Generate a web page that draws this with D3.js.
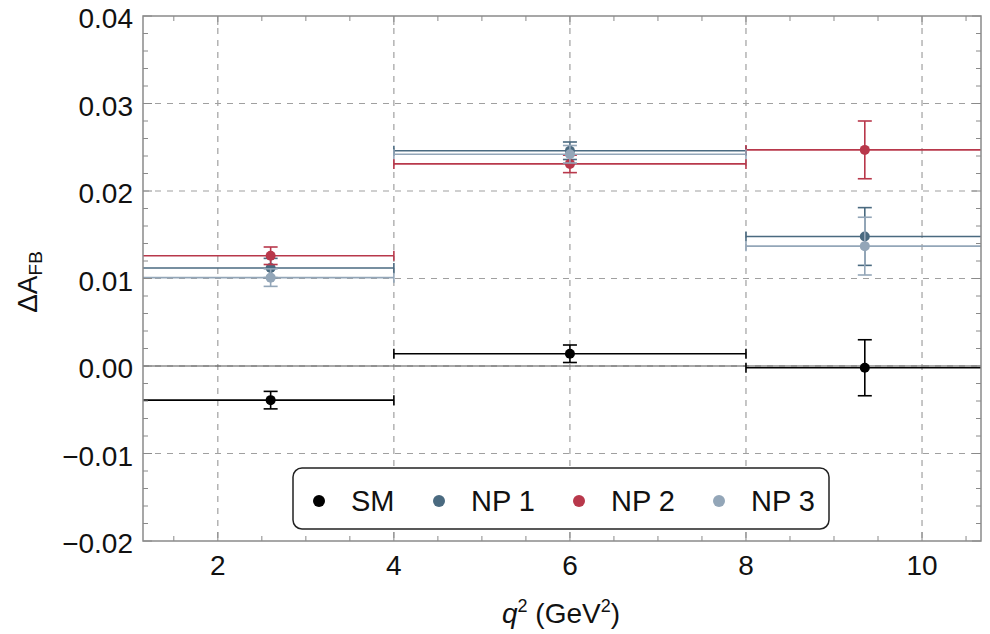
<!DOCTYPE html>
<html><head><meta charset="utf-8">
<script src="https://cdn.jsdelivr.net/npm/d3@7"></script>
<style>body{margin:0;background:#fff}svg{display:block}text{font-family:"Liberation Sans",Arial,sans-serif}</style>
</head><body><svg id="c" width="990" height="634"></svg>
<script>
const seriesNames = ["SM", "NP 1", "NP 2", "NP 3"];
const seriesColors = ["#000000", "#4a6a80", "#b8384b", "#93a6b8"];
const binLo = [1.1, 4, 8];
const binHi = [4, 8, 10.7];
const pointX = [2.6, 6, 9.35];
const smVal = [-0.0039, 0.0014, -0.0002];
const smErr = [0.001, 0.001, 0.0032];
const np1Val = [0.0112, 0.0246, 0.0148];
const np1Err = [0.0011, 0.001, 0.0033];
const np2Val = [0.0126, 0.0231, 0.0247];
const np2Err = [0.001, 0.001, 0.0033];
const np3Val = [0.0101, 0.0242, 0.0137];
const np3Err = [0.001, 0.001, 0.0033];
const xTicks = [2, 4, 6, 8, 10];
const yTicks = [-0.02, -0.01, 0, 0.01, 0.02, 0.03, 0.04];
const yTickLabels = ["\u22120.02", "\u22120.01", "0.00", "0.01", "0.02", "0.03", "0.04"];

const series = [
  {vals: smVal, errs: smErr},
  {vals: np1Val, errs: np1Err},
  {vals: np2Val, errs: np2Err},
  {vals: np3Val, errs: np3Err}
];

const L = 143, R = 981, T = 16, B = 541;
const x = d3.scaleLinear().domain([1.15, 10.67]).range([L, R]);
const y = d3.scaleLinear().domain([-0.02, 0.04]).range([B, T]);
const svg = d3.select("#c");

svg.append("defs").append("clipPath").attr("id", "clip")
  .append("rect").attr("x", L).attr("y", T).attr("width", R - L).attr("height", B - T);

// grid
const grid = svg.append("g");
xTicks.forEach(t => grid.append("line").attr("x1", x(t)).attr("x2", x(t)).attr("y1", T).attr("y2", B)
  .attr("stroke", "#a0a0a0").attr("stroke-width", 1.2).attr("stroke-dasharray", "6,6"));
yTicks.slice(1, -1).forEach(t => grid.append("line").attr("y1", y(t)).attr("y2", y(t)).attr("x1", L).attr("x2", R)
  .attr("stroke", "#a0a0a0").attr("stroke-width", 1.2).attr("stroke-dasharray", "6,6"));

// zero axis
svg.append("line").attr("x1", L).attr("x2", R).attr("y1", y(0)).attr("y2", y(0))
  .attr("stroke", "#555").attr("stroke-width", 1.2);

const plot = svg.append("g").attr("clip-path", "url(#clip)");
series.forEach((s, i) => {
  const c = seriesColors[i];
  const g = plot.append("g");
  s.vals.forEach((v, j) => {
    g.append("line").attr("x1", x(binLo[j])).attr("x2", x(binHi[j])).attr("y1", y(v)).attr("y2", y(v))
      .attr("stroke", c).attr("stroke-width", 1.6);
    [binLo[j], binHi[j]].forEach(e => g.append("line").attr("x1", x(e)).attr("x2", x(e))
      .attr("y1", y(v) - 5).attr("y2", y(v) + 5).attr("stroke", c).attr("stroke-width", 1.6));
    const e = s.errs[j], px = x(pointX[j]);
    g.append("line").attr("x1", px).attr("x2", px).attr("y1", y(v + e)).attr("y2", y(v - e))
      .attr("stroke", c).attr("stroke-width", 1.6);
    [v + e, v - e].forEach(w => g.append("line").attr("x1", px - 7).attr("x2", px + 7)
      .attr("y1", y(w)).attr("y2", y(w)).attr("stroke", c).attr("stroke-width", 1.6));
    g.append("circle").attr("cx", px).attr("cy", y(v)).attr("r", 5).attr("fill", c);
  });
});

// frame
svg.append("rect").attr("x", L).attr("y", T).attr("width", R - L).attr("height", B - T)
  .attr("fill", "none").attr("stroke", "#8a8a8a").attr("stroke-width", 1.5);

// ticks
const tk = svg.append("g").attr("stroke", "#8a8a8a").attr("stroke-width", 1);
const xMinor = d3.range(1.5, 10.7, 0.5).filter(v => v >= 1.15 && !xTicks.includes(v));
xTicks.forEach(t => { tk.append("line").attr("x1", x(t)).attr("x2", x(t)).attr("y1", B).attr("y2", B - 9);
  tk.append("line").attr("x1", x(t)).attr("x2", x(t)).attr("y1", T).attr("y2", T + 9); });
xMinor.forEach(t => { tk.append("line").attr("x1", x(t)).attr("x2", x(t)).attr("y1", B).attr("y2", B - 5);
  tk.append("line").attr("x1", x(t)).attr("x2", x(t)).attr("y1", T).attr("y2", T + 5); });
const yMinor = d3.range(-0.018, 0.04, 0.002).filter(v => Math.abs(Math.round(v * 100) - v * 100) > 1e-6);
yTicks.forEach(t => { tk.append("line").attr("y1", y(t)).attr("y2", y(t)).attr("x1", L).attr("x2", L + 9);
  tk.append("line").attr("y1", y(t)).attr("y2", y(t)).attr("x1", R).attr("x2", R - 9); });
yMinor.forEach(t => { tk.append("line").attr("y1", y(t)).attr("y2", y(t)).attr("x1", L).attr("x2", L + 5);
  tk.append("line").attr("y1", y(t)).attr("y2", y(t)).attr("x1", R).attr("x2", R - 5); });

// tick labels
xTicks.forEach(t => svg.append("text").attr("x", x(t)).attr("y", B + 34).attr("text-anchor", "middle")
  .attr("font-size", 28).attr("fill", "#111").text(t));
yTicks.forEach((t, i) => svg.append("text").attr("x", L - 10).attr("y", y(t) + 12).attr("text-anchor", "end")
  .attr("font-size", 28).attr("fill", "#111").text(yTickLabels[i]));

// axis labels
const xl = svg.append("text").attr("x", 561).attr("y", 623).attr("text-anchor", "middle")
  .attr("font-size", 28).attr("fill", "#111");
xl.append("tspan").attr("font-style", "italic").text("q");
xl.append("tspan").attr("font-size", 18).attr("dy", -11).text("2");
xl.append("tspan").attr("dy", 11).text(" (GeV");
xl.append("tspan").attr("font-size", 18).attr("dy", -11).text("2");
xl.append("tspan").attr("dy", 11).text(")");

const yl = svg.append("text").attr("transform", `translate(37,282) rotate(-90)`).attr("text-anchor", "middle")
  .attr("font-size", 28).attr("fill", "#111");
yl.append("tspan").text("\u0394A");
yl.append("tspan").attr("font-size", 19).attr("dy", 5).text("FB");

// legend
const lg = svg.append("g");
lg.append("rect").attr("x", 293).attr("y", 468).attr("width", 536).attr("height", 61).attr("rx", 9)
  .attr("fill", "#fff").attr("stroke", "#222").attr("stroke-width", 1.5);
const lx = [319, 439, 579, 719];
seriesNames.forEach((n, i) => {
  lg.append("circle").attr("cx", lx[i]).attr("cy", 501).attr("r", 6).attr("fill", seriesColors[i]);
  lg.append("text").attr("x", lx[i] + 32).attr("y", 511).attr("font-size", 29).attr("fill", "#111").text(n);
});
</script></body></html>
